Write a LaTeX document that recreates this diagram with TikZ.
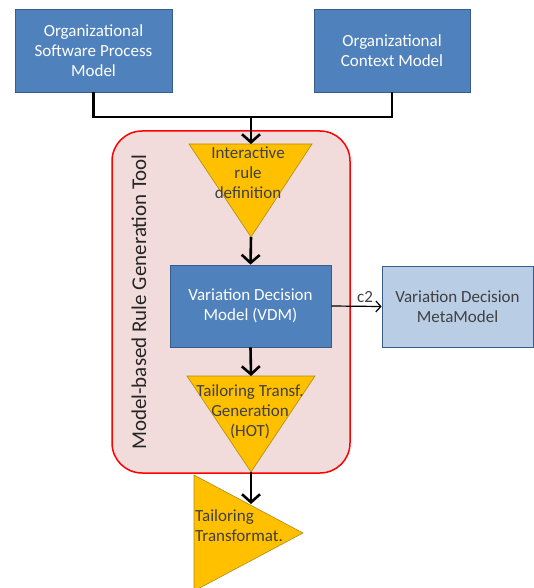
\documentclass[tikz,border=0pt]{standalone}
\usepackage{fontspec}
\setmainfont{Carlito}
\usetikzlibrary{arrows.meta}
\definecolor{modelblue}{HTML}{4F81BD}
\definecolor{modelline}{HTML}{385D8A}
\definecolor{metablue}{HTML}{B9CDE5}
\definecolor{trigold}{HTML}{FFC000}
\definecolor{triline}{HTML}{B08A10}
\definecolor{toolpink}{HTML}{F2DCDB}
\definecolor{darktext}{HTML}{404040}
\begin{document}
\begin{tikzpicture}[
      x=1pt, y=-1pt,
      model/.style={draw=modelline, fill=modelblue, line width=0.8pt,
                    text=white, align=center, inner sep=0pt,
                    font=\fontsize{17}{20}\selectfont},
      meta/.style={model, fill=metablue, text=darktext},
      tri/.style={draw=triline, fill=trigold, line width=0.6pt},
      tritext/.style={align=center, text=darktext, inner sep=0pt,
                      font=\fontsize{17}{20}\selectfont},
      flow/.style={line width=2.6pt, -{Straight Barb[length=8pt,width=18pt]}},
      link/.style={line width=2.6pt}
    ]
      \useasboundingbox (0,0) rectangle (534,588);
      \clip (0,0) rectangle (534,588);
      % tool frame
      \draw[red, fill=toolpink, line width=1.5pt, rounded corners=30pt]
        (112,131) rectangle (350,473);
      \node[rotate=90, font=\fontsize{21}{24}\selectfont, text=black!85] (tool)
        at (139,302) {Model-based Rule Generation Tool};

      % input models
      \node[model, minimum width=157pt, minimum height=83pt] (osp) at (93.5,50.5)
        {Organizational\\Software Process\\Model};
      \node[model, minimum width=156pt, minimum height=83pt] (ocm) at (392,50.5)
        {Organizational\\Context Model};

      % triangles
      \coordinate (irdtop) at (251,144);
      \coordinate (irdtip) at (251,237);
      \draw[tri] (189,144) -- (312,144) -- (irdtip) -- cycle;
      \node[tritext] (ird) at (248,173) {Interactive\\rule\\definition};

      \coordinate (hottop) at (251,376);
      \coordinate (hottip) at (251,472);
      \draw[tri] (187,376) -- (315,376) -- (hottip) -- cycle;
      \node[tritext] (hot) at (250,412) {Tailoring Transf.\\Generation\\(HOT)};

      \coordinate (ttedge) at (251,504);
      \draw[tri] (194,475) -- (303,533) -- (194,591) -- cycle;
      \node[tritext, align=left, anchor=west] (tt) at (195,526)
        {Tailoring\\Transformat.};

      % decision models
      \node[model, minimum width=161pt, minimum height=82pt] (vdm) at (250.5,306)
        {Variation Decision\\Model (VDM)};
      \node[meta, minimum width=151pt, minimum height=81pt] (vdmm) at (457.5,306.5)
        {Variation Decision\\MetaModel};

      % connectors
      \coordinate (join) at (251,117);
      \draw[link] (osp.south) |- (join) -| (ocm.south);
      \draw[flow] (join) -- (irdtop);
      \draw[flow] (irdtip) -- (vdm.north);
      \draw[flow] (vdm.south) -- (hottop);
      \draw[flow] (hottip) -- (ttedge);
      \draw[line width=1.2pt, -{Straight Barb[length=5pt,width=11pt]}]
        (vdm.east) -- node[pos=0.67, above, font=\fontsize{17}{18}\selectfont,
        text=darktext] {c2} (vdmm.west);
    \end{tikzpicture}
\end{document}
